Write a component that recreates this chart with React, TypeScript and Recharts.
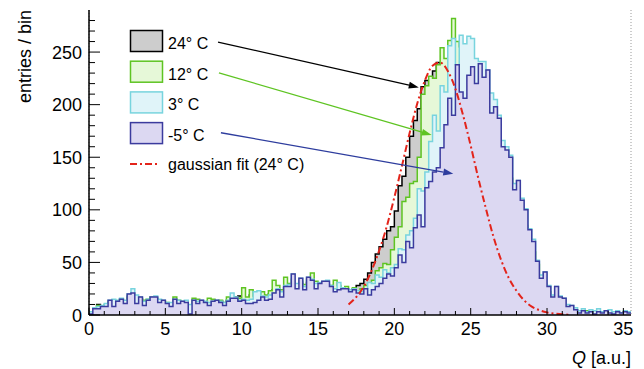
import React from 'react';
import {
  ComposedChart,
  Area,
  Line,
  XAxis,
  YAxis,
  CartesianGrid,
  ReferenceLine,
} from 'recharts';

const FONT = '"Liberation Sans", Arial, Helvetica, sans-serif';

// histogram bin width on Q
const BIN = 0.25;

// entries per bin, 24° C
const T24 = [
  0, 6, 10, 8, 9, 12, 13, 12, 14, 12,
  17, 18, 15, 15, 12, 14, 15, 15, 13, 13,
  11, 9, 14, 13, 12, 12, 8, 14, 13, 13,
  12, 13, 14, 12, 13, 11, 14, 15, 17, 18,
  16, 14, 19, 16, 17, 19, 17, 20, 24, 23,
  22, 26, 26, 30, 26, 30, 27, 31, 33, 29,
  28, 26, 27, 26, 28, 26, 23, 24, 22, 25,
  28, 30, 34, 40, 50, 58, 65, 72, 80, 84,
  99, 123, 132, 150, 170, 185, 196, 217, 223, 218,
  232, 240, 226, 222, 210, 205, 196, 185, 176, 165,
  155, 140, 128, 115, 100, 88, 76, 64, 52, 44,
  36, 30, 24, 19, 15, 12, 10, 8, 6, 5,
  4, 3, 3, 2, 2, 2, 1, 2, 1, 1,
  2, 1, 1, 2, 1, 1, 1, 0, 1, 1,
  0, 1,
];

// 12° C
const T12 = [
  0, 6, 9, 8, 10, 13, 14, 13, 15, 13,
  18, 19, 17, 16, 14, 15, 17, 16, 14, 13,
  12, 10, 17, 14, 12, 13, 9, 16, 15, 13,
  12, 16, 15, 13, 14, 12, 17, 15, 14, 16,
  26, 17, 24, 18, 20, 22, 19, 23, 33, 28,
  24, 36, 30, 34, 28, 32, 29, 34, 40, 32,
  30, 27, 29, 28, 33, 28, 24, 27, 22, 26,
  22, 25, 28, 30, 33, 42, 45, 49, 48, 62,
  74, 84, 108, 112, 125, 127, 150, 210, 218, 227,
  225, 238, 254, 244, 261, 282, 260, 255, 248, 230,
  240, 225, 220, 215, 200, 185, 180, 165, 150, 140,
  130, 112, 105, 95, 85, 70, 60, 48, 35, 30,
  22, 17, 15, 12, 10, 7, 6, 5, 4, 3,
  4, 2, 3, 2, 3, 2, 2, 3, 1, 2,
  3, 2,
];

// 3° C
const T3 = [
  3, 7, 8, 9, 11, 14, 15, 14, 16, 14,
  20, 25, 19, 17, 13, 15, 17, 18, 15, 14,
  12, 12, 15, 14, 13, 14, 10, 14, 13, 14,
  13, 12, 13, 14, 13, 12, 14, 21, 17, 14,
  15, 14, 15, 22, 23, 18, 17, 19, 21, 25,
  22, 28, 29, 39, 30, 35, 27, 36, 34, 30,
  31, 32, 33, 28, 25, 31, 26, 25, 24, 25,
  23, 22, 25, 31, 30, 38, 36, 43, 40, 45,
  48, 63, 62, 76, 80, 92, 120, 118, 136, 165,
  190, 175, 218, 212, 256, 263, 238, 266, 258, 265,
  263, 244, 241, 241, 233, 211, 205, 190, 166, 160,
  152, 125, 128, 111, 101, 82, 72, 52, 38, 41,
  28, 19, 27, 18, 16, 10, 9, 7, 4, 6,
  3, 5, 4, 6, 3, 4, 5, 3, 4, 2,
  4, 3,
];

// -5° C
const TM5 = [
  1, 6, 6, 8, 8, 14, 8, 13, 15, 11,
  20, 21, 11, 17, 9, 14, 17, 17, 12, 14,
  11, 8, 15, 11, 13, 12, 1, 14, 11, 14,
  12, 9, 13, 14, 12, 9, 13, 16, 16, 13,
  14, 11, 11, 12, 14, 17, 14, 15, 21, 24,
  17, 27, 27, 39, 25, 35, 24, 36, 33, 25,
  30, 32, 32, 27, 22, 24, 25, 25, 22, 24,
  21, 20, 25, 19, 24, 27, 30, 35, 39, 37,
  45, 57, 50, 70, 64, 83, 95, 84, 121, 127,
  136, 140, 159, 181, 206, 190, 238, 212, 206, 228,
  236, 220, 239, 226, 233, 192, 198, 187, 160, 157,
  150, 119, 128, 109, 100, 81, 70, 51, 35, 41,
  27, 17, 27, 17, 16, 8, 9, 5, 2, 4,
  2, 3, 1, 3, 2, 4, 2, 1, 3, 2,
  3, 2,
];

// gaussian fit of the 24° C spectrum
const FIT_Q = [17, 17.5, 18, 18.5, 19, 19.5, 20, 20.5, 21, 21.5, 22, 22.5, 23, 23.5, 24, 24.5, 25, 25.5, 26, 26.5, 27, 27.5, 28, 28.5, 29, 29.5, 30, 30.5, 31, 31.5];
const FIT_N = [10, 17, 27, 42, 61, 84, 112, 142, 173, 201, 223, 237, 240, 232, 215, 190, 161, 130, 101, 74, 52, 35, 23, 14, 8, 4.6, 2.5, 1.3, 0.6, 0.3];

const X_TICKS = Array.from({ length: 36 }, (_, i) => i);
const Y_TICKS = Array.from({ length: 29 }, (_, i) => i * 10);
const GRID_X = [5, 10, 15, 20, 25, 30, 35];

const SERIES = [
  { key: 't24', label: '24° C', stroke: '#000000', fill: '#cdcdcd' },
  { key: 't12', label: '12° C', stroke: '#5ec422', fill: '#e6f8d8' },
  { key: 't3', label: '3° C', stroke: '#78d4de', fill: '#e0f4f9' },
  { key: 'tm5', label: '-5° C', stroke: '#3b3b9e', fill: '#dcd8f2' },
];

// arrows from the legend to each spectrum, in data units
const ARROWS = [
  { from: [8.45, 259.5], to: [21.6, 216.4], color: '#000000' },
  { from: [8.51, 230.3], to: [22.44, 171.1], color: '#5ec422' },
  { from: [8.64, 173.3], to: [23.86, 134.3], color: '#2e3d9e' },
];

const rows = T24.map((_, i) => ({ x: i * BIN, t24: T24[i], t12: T12[i], t3: T3[i], tm5: TM5[i] }));
const last = T24.length - 1;
rows.push({ x: T24.length * BIN, t24: T24[last], t12: T12[last], t3: T3[last], tm5: TM5[last] });

const fitRows = FIT_Q.map((q, i) => ({ x: q, fit: FIT_N[i] }));

const XTick = (props: any) => {
  const { x, y, payload, side } = props;
  const v = payload.value;
  const major = v % 5 === 0;
  const len = major ? 7 : 4;
  if (side === 'top') {
    return <line x1={x} x2={x} y1={y} y2={y + len} stroke="#000" strokeWidth={1} />;
  }
  return (
    <g>
      <line x1={x} x2={x} y1={y} y2={y - len} stroke="#000" strokeWidth={1} />
      {major && (
        <text x={x} y={y + 20} textAnchor="middle" fontSize={18} fontFamily={FONT} fill="#000">
          {v}
        </text>
      )}
    </g>
  );
};

const YTick = (props: any) => {
  const { x, y, payload, side } = props;
  const v = payload.value;
  const major = v % 50 === 0;
  const len = major ? 11 : 6;
  if (side === 'right') {
    return <line x1={x} x2={x - len} y1={y} y2={y} stroke="#000" strokeWidth={1} />;
  }
  return (
    <g>
      <line x1={x} x2={x + len} y1={y} y2={y} stroke="#000" strokeWidth={1} />
      {major && (
        <text x={x - 7} y={y + 6.5} textAnchor="end" fontSize={18} fontFamily={FONT} fill="#000">
          {v}
        </text>
      )}
    </g>
  );
};

const Arrow = (color: string) => (props: any) => {
  const { x1, y1, x2, y2 } = props;
  const a = Math.atan2(y2 - y1, x2 - x1);
  const L = 10;
  const W = 3.5;
  const bx = x2 - L * Math.cos(a);
  const by = y2 - L * Math.sin(a);
  const px = -Math.sin(a) * W;
  const py = Math.cos(a) * W;
  return (
    <g>
      <line x1={x1} y1={y1} x2={bx} y2={by} stroke={color} strokeWidth={1.3} />
      <polygon points={`${x2},${y2} ${bx + px},${by + py} ${bx - px},${by - py}`} fill={color} />
    </g>
  );
};

const Legend = () => (
  <svg
    width={644}
    height={369}
    style={{ position: 'absolute', left: 0, top: 0, pointerEvents: 'none' }}
  >
    {SERIES.map((s, i) => (
      <g key={s.key}>
        <rect x={130.5} y={30.5 + i * 30.7} width={32} height={21} fill={s.fill} stroke={s.stroke} strokeWidth={1.5} />
        <text x={168} y={49 + i * 30.7} fontSize={16} fontFamily={FONT} fill="#000">
          {s.label}
        </text>
      </g>
    ))}
    <line x1={130} x2={158} y1={164} y2={164} stroke="#e3241b" strokeWidth={2} strokeDasharray="7 3 2 3" />
    <text x={168} y={170} fontSize={16} fontFamily={FONT} fill="#000">
      gaussian fit (24° C)
    </text>
  </svg>
);

const App = (): JSX.Element => {
  return (
    <div style={{ position: 'absolute', left: 0, top: 0, width: 644, height: 369, background: '#fff' }}>
      <ComposedChart width={644} height={369} data={rows} margin={{ top: 10, right: 13, bottom: 0, left: 29 }}>
        <XAxis
          xAxisId="g"
          dataKey="x"
          type="number"
          domain={[0, 35.5]}
          ticks={GRID_X}
          interval={0}
          allowDataOverflow
          height={0}
          tick={false}
          tickLine={false}
          axisLine={false}
        />
        <CartesianGrid
          xAxisId="g"
          yAxisId="l"
          horizontal={false}
          stroke="#9a9a9a"
          strokeDasharray="1 2"
        />
        <XAxis
          xAxisId="b"
          dataKey="x"
          type="number"
          domain={[0, 35.5]}
          ticks={X_TICKS}
          interval={0}
          allowDataOverflow
          height={54}
          tickSize={0}
          tickMargin={0}
          tickLine={false}
          axisLine={{ stroke: '#000', strokeWidth: 1.5 }}
          tick={(p: any) => <XTick {...p} side="bottom" />}
          label={{
            content: (p: any) => {
              const vb = p.viewBox;
              return (
                <text x={vb.x + vb.width} y={vb.y + 49} textAnchor="end" fontSize={18} fontFamily={FONT} fill="#000">
                  <tspan fontStyle="italic">Q</tspan>
                  <tspan> [a.u.]</tspan>
                </text>
              );
            },
          }}
        />
        <XAxis
          xAxisId="t"
          orientation="top"
          dataKey="x"
          type="number"
          domain={[0, 35.5]}
          ticks={X_TICKS}
          interval={0}
          allowDataOverflow
          height={0}
          tickSize={0}
          tickMargin={0}
          tickLine={false}
          axisLine={{ stroke: '#000', strokeWidth: 1.5 }}
          tick={(p: any) => <XTick {...p} side="top" />}
        />
        <YAxis
          yAxisId="l"
          type="number"
          domain={[0, 290]}
          ticks={Y_TICKS}
          interval={0}
          allowDataOverflow
          width={60}
          tickSize={0}
          tickMargin={0}
          tickLine={false}
          axisLine={{ stroke: '#000', strokeWidth: 1.5 }}
          tick={(p: any) => <YTick {...p} side="left" />}
          label={{
            content: () => (
              <text
                x={31}
                y={10}
                transform="rotate(-90, 31, 10)"
                textAnchor="end"
                fontSize={18}
                fontFamily={FONT}
                fill="#000"
              >
                entries / bin
              </text>
            ),
          }}
        />
        <YAxis
          yAxisId="r"
          orientation="right"
          type="number"
          domain={[0, 290]}
          ticks={Y_TICKS}
          interval={0}
          allowDataOverflow
          width={0}
          tickSize={0}
          tickMargin={0}
          tickLine={false}
          axisLine={{ stroke: '#000', strokeWidth: 1.5 }}
          tick={(p: any) => <YTick {...p} side="right" />}
        />
        {SERIES.map((s) => (
          <Area
            key={s.key}
            xAxisId="b"
            yAxisId="l"
            type="stepAfter"
            dataKey={s.key}
            stroke={s.stroke}
            strokeWidth={1.5}
            fill={s.fill}
            fillOpacity={1}
            dot={false}
            activeDot={false}
            isAnimationActive={false}
          />
        ))}
        <Line
          xAxisId="b"
          yAxisId="l"
          data={fitRows}
          dataKey="fit"
          type="monotone"
          stroke="#e3241b"
          strokeWidth={2}
          strokeDasharray="7 3 2 3"
          dot={false}
          activeDot={false}
          isAnimationActive={false}
        />
        {ARROWS.map((a, i) => (
          <ReferenceLine
            key={`a${i}`}
            xAxisId="b"
            yAxisId="l"
            segment={[
              { x: a.from[0], y: a.from[1] },
              { x: a.to[0], y: a.to[1] },
            ]}
            shape={Arrow(a.color)}
          />
        ))}
      </ComposedChart>
      <Legend />
    </div>
  );
};

export default App;
